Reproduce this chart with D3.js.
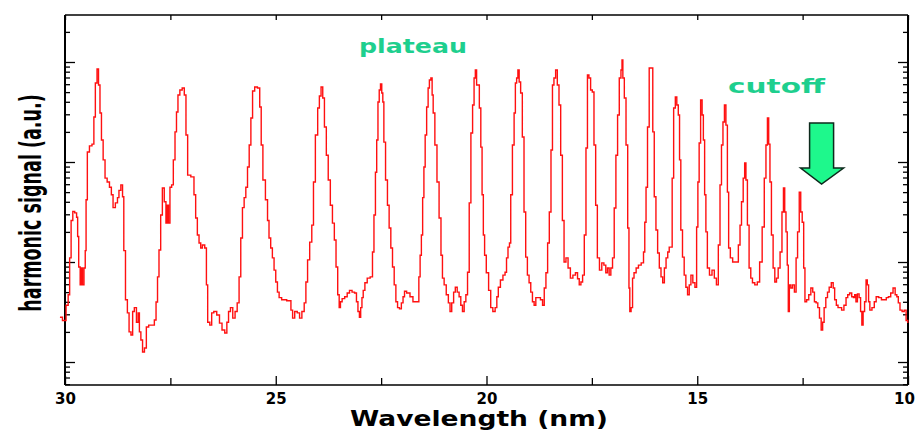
<!DOCTYPE html>
<html>
<head>
<meta charset="utf-8">
<script src="https://cdn.jsdelivr.net/npm/d3@7"></script>
<style>
  body { margin: 0; background: #fff; }
  svg { display: block; }
  .tick line { stroke: #000; stroke-width: 1.3; }
  .tick text { font-family: "DejaVu Sans", sans-serif; font-weight: bold; font-size: 15px; fill: #000; }
</style>
</head>
<body>
<div id="chart"></div>
<script>
// Wavelength (nm) from left to right
var wavelength = [30.12,30.00,29.95,29.90,29.88,29.83,29.80,29.74,29.71,29.69,29.66,29.62,29.60,29.57,29.53,29.51,29.49,29.45,29.39,29.33,29.30,29.26,29.22,29.19,29.15,29.12,29.07,29.03,28.97,28.92,28.88,28.84,28.77,28.74,28.70,28.65,28.62,28.59,28.54,28.50,28.46,28.41,28.38,28.33,28.28,28.25,28.22,28.18,28.14,28.09,28.05,27.98,27.90,27.86,27.82,27.79,27.75,27.71,27.67,27.62,27.59,27.56,27.53,27.49,27.45,27.41,27.37,27.34,27.30,27.25,27.19,27.15,27.11,27.07,26.96,26.92,26.88,26.84,26.80,26.76,26.72,26.65,26.64,26.59,26.54,26.50,26.44,26.36,26.31,26.24,26.18,26.14,26.10,26.05,25.99,25.94,25.89,25.85,25.81,25.77,25.73,25.69,25.65,25.61,25.57,25.53,25.47,25.40,25.36,25.33,25.28,25.21,25.18,25.14,
  25.10,25.06,25.02,24.98,24.94,24.90,24.82,24.66,24.62,24.58,24.52,24.46,24.41,24.35,24.30,24.27,24.22,24.17,24.12,24.09,24.03,23.98,23.95,23.90,23.87,23.82,23.78,23.73,23.68,23.63,23.59,23.55,23.51,23.48,23.45,23.40,23.33,23.28,23.22,23.16,23.10,23.07,23.03,23.00,22.97,22.94,22.91,22.86,22.80,22.72,22.69,22.65,22.62,22.59,22.56,22.53,22.50,22.47,22.45,22.42,22.37,22.33,22.29,22.25,22.21,22.17,22.13,22.09,22.04,22.00,21.96,21.93,21.86,21.77,21.72,21.62,21.59,21.56,21.53,21.50,21.47,21.44,21.40,21.37,21.34,21.30,21.28,21.25,21.20,21.15,21.10,21.06,21.03,20.98,20.93,20.88,20.85,20.80,20.76,20.72,20.67,20.63,20.59,20.55,20.51,20.47,20.43,20.39,20.35,20.31,20.28,20.25,20.22,20.19,20.15,20.12,20.09,20.06,20.03,19.98,19.92,19.88,19.82,19.77,19.74,19.70,19.64,19.58,19.54,19.51,19.47,19.44,19.41,19.36,19.33,19.30,19.27,19.24,19.21,19.17,19.13,19.09,19.05,19.01,18.97,18.93,18.89,18.85,18.81,18.75,18.69,18.65,18.61,18.57,18.53,18.49,18.45,18.42,18.38,18.34,18.30,18.26,18.22,18.18,18.14,18.09,18.04,17.98,17.92,17.86,17.82,17.78,17.74,17.70,17.66,17.62,17.59,17.55,17.51,17.47,17.43,17.39,17.35,17.29,17.24,17.19,17.15,17.11,17.07,17.03,16.99,16.95,16.91,16.87,16.83,16.79,16.78,16.75,16.71,16.67,16.63,16.61,16.59,16.55,16.52,16.48,16.42,16.37,16.29,16.26,16.23,16.20,16.16,16.12,16.07,16.04,16.00,15.96,15.92,15.88,15.84,15.80,15.76,15.72,15.68,15.65,15.61,15.58,15.54,15.50,15.47,15.43,15.41,15.37,15.33,15.29,15.25,15.21,15.17,15.13,15.08,15.03,15.00,14.97,14.94,14.90,14.87,14.84,14.81,14.78,14.74,14.68,14.62,14.57,14.52,14.48,14.44,14.41,14.37,14.34,14.30,14.27,14.24,14.19,14.13,14.05,14.00,13.97,13.93,13.89,13.86,13.83,13.79,13.75,13.71,13.67,13.60,13.55,13.49,13.43,13.39,13.35,13.32,13.29,13.26,13.22,13.18,13.14,13.10,13.06,13.01,12.97,12.94,12.91,12.88,12.85,12.83,12.80,12.76,12.72,12.67,12.64,12.60,12.56,12.53,12.49,12.46,12.43,12.38,12.33,12.28,12.24,12.20,12.16,12.12,12.08,12.04,12.01,11.97,11.93,11.89,11.85,11.79,11.76,11.72,11.68,11.64,11.60,11.55,11.49,11.45,11.41,11.36,11.31,11.28,11.25,11.22,11.18,11.14,11.11,11.08,11.05,11.01,10.98,10.95,10.92,10.89,10.82,10.78,10.73,10.66,10.60,10.54,10.49,10.44,10.38,10.33,10.28,10.25,10.21,10.17,10.11,10.07,10.02,9.99];

// Harmonic signal (a.u., log scale)
var signal = [2.8,2.6,3.7,4.7,11,26,32,31,28,18,8.9,5.9,8.7,5.9,8.7,13,42,126,145,151,
  282,617,851,589,309,166,105,69,63,56,47,35,39,44,52,59,45,13,4.2,3.1,
  2.0,1.86,3.2,3.5,2.5,3.1,2.0,1.66,1.26,1.38,2.24,2.34,2.34,2.63,3.98,7.1,13.2,29.5,55,40,
  24.5,37,24.5,56,59,105,200,316,468,525,550,468,186,74,71,47,27.5,18.6,15.5,13.8,
  14.8,13.8,5.9,2.5,2.34,3.1,3.2,2.95,2.45,2.09,1.95,2.5,3.2,3.5,2.75,3.2,3.9,7.1,17.4,35,
  44,56,89,148,275,513,562,550,355,148,66,42,26,17.4,
  13.8,11,8.3,6.3,5.0,4.4,
  4.2,4.1,3.3,2.75,3.2,3.1,2.75,3.2,3.9,6.3,10.5,15.8,23.4,63,186,347,457,562,437,224,
  117,66,37,24.5,16.6,8.9,4.7,3.5,4.0,4.3,4.5,4.9,5.2,5.0,4.9,4.0,3.2,2.8,3.5,4.4,
  5.2,6.2,6.9,7.1,12.6,29.5,79,166,398,525,603,490,398,158,66,37,21.9,13.8,8.9,5.9,
  4.0,3.5,3.4,3.9,4.5,5.1,4.9,4.5,4.0,4.0,7.1,11.7,18.6,44,89,186,355,550,661,692,
  468,309,148,63,27.5,11.7,6.9,5.9,4.7,3.9,3.2,3.9,5.0,5.6,5.0,4.5,3.7,3.2,4.0,4.7,
  7.9,39,195,372,692,832,589,589,347,141,47,18.6,11.7,7.8,5.2,3.5,3.2,3.5,4.5,5.6,
  6.6,7.4,7.9,11,14.1,15.5,47,148,309,617,692,832,631,490,178,31.6,11.2,7.4,6.2,5.0,
  4.0,3.7,4.4,4.4,4.2,3.7,5.5,7.8,15.5,31.6,132,589,692,832,589,372,117,26,10,11,
  8.7,6.9,7.4,7.8,6.8,5.9,6.3,7.4,18.6,138,741,692,525,501,148,37,11,8.3,9.8,9.3,
  7.8,8.7,7.4,8.7,11,34.7,117,295,692,832,1047,692,437,148,21.9,5.5,3.2,3.5,6.9,7.8,
  8.7,9.3,9.8,12.6,25,56,224,871,871,200,45,20.9,12.3,8.7,7.1,6.2,8.7,11,12.6,14.1,
  14.1,69,347,447,372,295,105,20.9,11.2,7.4,5.6,4.7,5.9,7.4,6.2,5.6,22.4,63,155,417,
  295,166,47,20,8.7,7.4,8.3,6.9,5.9,14.8,59,148,251,372,234,50,13.8,11,10,10,
  14.8,23.4,40,69,98,66,23.4,8.7,6.9,6.2,5.9,6.3,10,22.4,69,148,275,151,63,18.6,
  8.7,6.3,6.9,8.7,12.6,31.6,55,31.6,20,9.3,3.2,5.9,5.5,5.9,5.0,11,20,50,31.6,25,
  8.7,4.0,4.2,4.7,5.5,5.0,4.0,3.9,3.5,2.75,2.09,2.5,3.5,4.4,5.0,5.6,6.2,5.5,4.2,3.7,
  3.5,3.5,3.3,3.7,4.4,4.7,4.9,4.5,4.4,4.7,4.0,4.8,4.4,3.2,2.34,3.2,4.0,6.6,5.9,4.0,
  3.3,3.5,4.0,4.5,4.4,4.2,4.2,4.4,4.5,4.9,5.5,4.7,4.5,3.9,3.3,3.2,3.3,2.6,2.5];

var xMajorTicks = [30, 25, 20, 15, 10];
var xMinorTicks = [27.5, 22.5, 17.5, 12.5];
var xDomain = [30, 10];
var yDomain = [0.589, 2951];
var annotations = ["plateau", "cutoff"];
var cutoffWavelength = 12.05;

var width = 915, height = 432;
var margin = {top: 15, right: 7, bottom: 47, left: 65};

var svg = d3.select("#chart").append("svg")
    .attr("width", width)
    .attr("height", height);

var x = d3.scaleLinear().domain(xDomain).range([margin.left, width - margin.right]);
var y = d3.scaleLog().domain(yDomain).range([height - margin.bottom, margin.top]);

// log ticks: decades are major, 2..9 are minor
var yMajor = [], yMinor = [];
for (var k = -1; k <= 3; k++) {
    for (var m = 1; m <= 9; m++) {
        var v = m * Math.pow(10, k);
        if (v < yDomain[0] || v > yDomain[1]) continue;
        (m === 1 ? yMajor : yMinor).push(v);
    }
}

var x0 = x.range()[0], x1 = x.range()[1];
var y0 = y.range()[0], y1 = y.range()[1];

function noDomain(g) { g.select(".domain").remove(); }

// bottom axis (ticks point up, into the plot)
svg.append("g").attr("transform", "translate(0," + y0 + ")")
    .call(d3.axisBottom(x).tickValues(xMajorTicks).tickSize(-9).tickPadding(8).tickFormat(d3.format("d")))
    .call(noDomain)
    .call(function(g) {
        // last label sits right at the page edge
        g.selectAll(".tick text").filter(function(d) { return d === 10; }).attr("dx", -4);
    });
svg.append("g").attr("transform", "translate(0," + y0 + ")")
    .call(d3.axisBottom(x).tickValues(xMinorTicks).tickSize(-7).tickFormat(""))
    .call(noDomain);
// top axis
svg.append("g").attr("transform", "translate(0," + y1 + ")")
    .call(d3.axisTop(x).tickValues(xMajorTicks.concat(xMinorTicks)).tickSize(-5).tickFormat(""))
    .call(noDomain);
// left and right axes
[[d3.axisLeft, x0], [d3.axisRight, x1]].forEach(function(a) {
    svg.append("g").attr("transform", "translate(" + a[1] + ",0)")
        .call(a[0](y).tickValues(yMajor).tickSize(-10).tickFormat(""))
        .call(noDomain);
    svg.append("g").attr("transform", "translate(" + a[1] + ",0)")
        .call(a[0](y).tickValues(yMinor).tickSize(-5).tickFormat(""))
        .call(noDomain);
});

// frame
svg.append("line").attr("x1", x0).attr("x2", x1).attr("y1", y1).attr("y2", y1)
    .attr("stroke", "#000").attr("stroke-width", 1.5);
svg.append("line").attr("x1", x0).attr("x2", x1).attr("y1", y0).attr("y2", y0)
    .attr("stroke", "#000").attr("stroke-width", 1.5);
svg.append("line").attr("x1", x0).attr("x2", x0).attr("y1", y1).attr("y2", y0)
    .attr("stroke", "#000").attr("stroke-width", 2);
svg.append("line").attr("x1", x1).attr("x2", x1).attr("y1", y1).attr("y2", y0)
    .attr("stroke", "#000").attr("stroke-width", 2);

// the spectrum
var n = Math.min(wavelength.length, signal.length);
var points = d3.range(n).map(function(i) { return [wavelength[i], signal[i]]; });

var line = d3.line()
    .x(function(d) { return x(d[0]); })
    .y(function(d) { return y(d[1]); })
    .curve(d3.curveStep);

svg.append("path")
    .datum(points)
    .attr("fill", "none")
    .attr("stroke", "#ff1010")
    .attr("stroke-width", 1.4)
    .attr("d", line);

// axis titles
svg.append("text")
    .attr("x", 479).attr("y", 426)
    .attr("text-anchor", "middle")
    .attr("textLength", 258).attr("lengthAdjust", "spacingAndGlyphs")
    .style("font-family", "'DejaVu Sans', sans-serif")
    .style("font-weight", "bold")
    .style("font-size", "21px")
    .text("Wavelength (nm)");

// tall, narrow lettering: natural width, stretched across the baseline
svg.append("text")
    .attr("transform", "translate(41,203) rotate(-90) scale(1,1.5)")
    .attr("text-anchor", "middle")
    .style("font-family", "'Liberation Sans Narrow', 'DejaVu Sans Condensed', sans-serif")
    .style("font-weight", "bold")
    .style("font-size", "19.5px")
    .text("harmonic signal (a.u.)");

// annotations
svg.append("text")
    .attr("x", 359).attr("y", 53)
    .attr("textLength", 108).attr("lengthAdjust", "spacingAndGlyphs")
    .style("font-family", "'DejaVu Sans', sans-serif")
    .style("font-weight", "bold").style("font-size", "19px")
    .attr("fill", "#1ecf8e")
    .text(annotations[0]);

svg.append("text")
    .attr("x", 728).attr("y", 92.5)
    .attr("textLength", 97).attr("lengthAdjust", "spacingAndGlyphs")
    .style("font-family", "'DejaVu Sans', sans-serif")
    .style("font-weight", "bold").style("font-size", "19px")
    .attr("fill", "#1ecf8e")
    .text(annotations[1]);

// cutoff arrow
var ax = x(cutoffWavelength);
var arrow = d3.path();
arrow.moveTo(ax - 12, 123);
arrow.lineTo(ax + 12, 123);
arrow.lineTo(ax + 12, 168);
arrow.lineTo(ax + 22, 168);
arrow.lineTo(ax, 184);
arrow.lineTo(ax - 21, 168);
arrow.lineTo(ax - 12, 168);
arrow.closePath();
svg.append("path")
    .attr("d", arrow.toString())
    .attr("fill", "#1ef88c")
    .attr("stroke", "#0d2a1c")
    .attr("stroke-width", 1.5)
    .attr("stroke-linejoin", "miter");
</script>
</body>
</html>
